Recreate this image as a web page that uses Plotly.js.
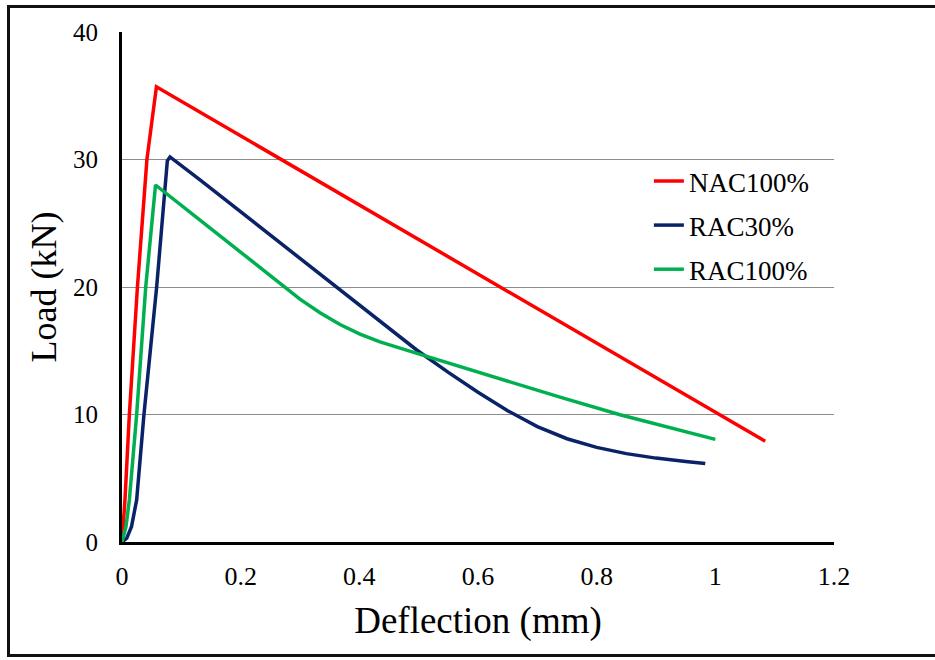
<!DOCTYPE html>
<html>
<head>
<meta charset="utf-8">
<script src="https://cdn.plot.ly/plotly-3.0.1.min.js"></script>
<style>
  html, body { margin: 0; padding: 0; overflow: hidden; background: #fff; }
  #wrap { position: relative; width: 935px; height: 660px; }
  #chart { width: 935px; height: 660px; }
  #frame { position: absolute; left: 7px; top: 5px; width: 940px; height: 652px;
           border: 3px solid #111; pointer-events: none; box-sizing: border-box; }
</style>
</head>
<body>
<div id="wrap">
  <div id="chart"></div>
  <div id="frame"></div>
</div>
<script>
// Deflection (mm) and Load (kN)
const nacX = [0, 0.002, 0.005, 0.0124, 0.026, 0.042, 0.058, 1.084];
const nacY = [0, 1.2, 3.3, 10, 20, 30, 35.7, 7.9];

const rac30X = [0, 0.008, 0.016, 0.0247, 0.037, 0.0584, 0.0764, 0.0809, 0.1315, 0.356, 0.4967, 0.55, 0.60, 0.65, 0.70, 0.75, 0.80, 0.85, 0.90, 0.95, 0.983];
const rac30Y = [0, 0.3, 1.2, 3.3, 10, 20, 29.9, 30.2, 28.4, 20.15, 15.06, 13.3, 11.75, 10.3, 9.05, 8.1, 7.42, 6.93, 6.58, 6.32, 6.15];

const rac100X = [0, 0.002, 0.0067, 0.0124, 0.0247, 0.040, 0.0565, 0.1315, 0.1989, 0.2719, 0.2999, 0.3337, 0.3674, 0.4011, 0.4348, 0.4972, 0.5697, 0.6371, 0.7382, 0.8394, 0.9237, 1.0];
const rac100Y = [0, 0.3, 1.2, 3.3, 10, 20, 28.0, 25.25, 22.78, 20.08, 19.05, 17.98, 17.06, 16.31, 15.69, 14.8, 13.75, 12.8, 11.36, 9.98, 8.93, 8.05];

const seriesNames = ['NAC100%', 'RAC30%', 'RAC100%'];
const seriesColors = ['#FF0000', '#0A2268', '#00B050'];

const xTitle = 'Deflection (mm)';
const yTitle = 'Load (kN)';

const FONT = 'Liberation Serif, Times New Roman, serif';

const xs = [nacX, rac30X, rac100X];
const ys = [nacY, rac30Y, rac100Y];

const traces = seriesNames.map((name, i) => ({
  type: 'scatter',
  mode: 'lines',
  name: name,
  legendgroup: 'g' + i,
  x: xs[i],
  y: ys[i],
  line: { color: seriesColors[i], width: 3.5 },
  hoverinfo: 'skip'
}));

const layout = {
  width: 935,
  height: 660,
  margin: { l: 122, r: 101, t: 32, b: 118 },
  paper_bgcolor: '#ffffff',
  plot_bgcolor: '#ffffff',
  font: { family: FONT, color: '#000' },
  showlegend: true,
  legend: {
    x: 0.74, xanchor: 'left',
    y: 0.755, yanchor: 'top',
    font: { family: FONT, size: 27, color: '#000' },
    bgcolor: 'rgba(255,255,255,0)',
    tracegroupgap: 6,
    traceorder: 'grouped'
  },
  xaxis: {
    range: [0, 1.2],
    dtick: 0.2,
    tick0: 0,
    showgrid: false,
    zeroline: false,
    showline: true,
    linecolor: '#000',
    linewidth: 3,
    ticks: '',
    ticklabelstandoff: 9,
    tickfont: { family: FONT, size: 26, color: '#000' },
    title: { text: xTitle, font: { family: FONT, size: 37, color: '#000' }, standoff: 17 },
    automargin: false
  },
  yaxis: {
    range: [0, 40],
    dtick: 10,
    tick0: 0,
    showgrid: true,
    gridcolor: '#8c8c8c',
    gridwidth: 1,
    zeroline: false,
    showline: true,
    linecolor: '#000',
    linewidth: 3,
    ticks: '',
    ticklabelstandoff: 16,
    tickfont: { family: FONT, size: 25, color: '#000' },
    title: { text: yTitle, font: { family: FONT, size: 36, color: '#000' }, standoff: 6 },
    automargin: false
  }
};

Plotly.newPlot('chart', traces, layout, { displayModeBar: false, staticPlot: true });
</script>
</body>
</html>
